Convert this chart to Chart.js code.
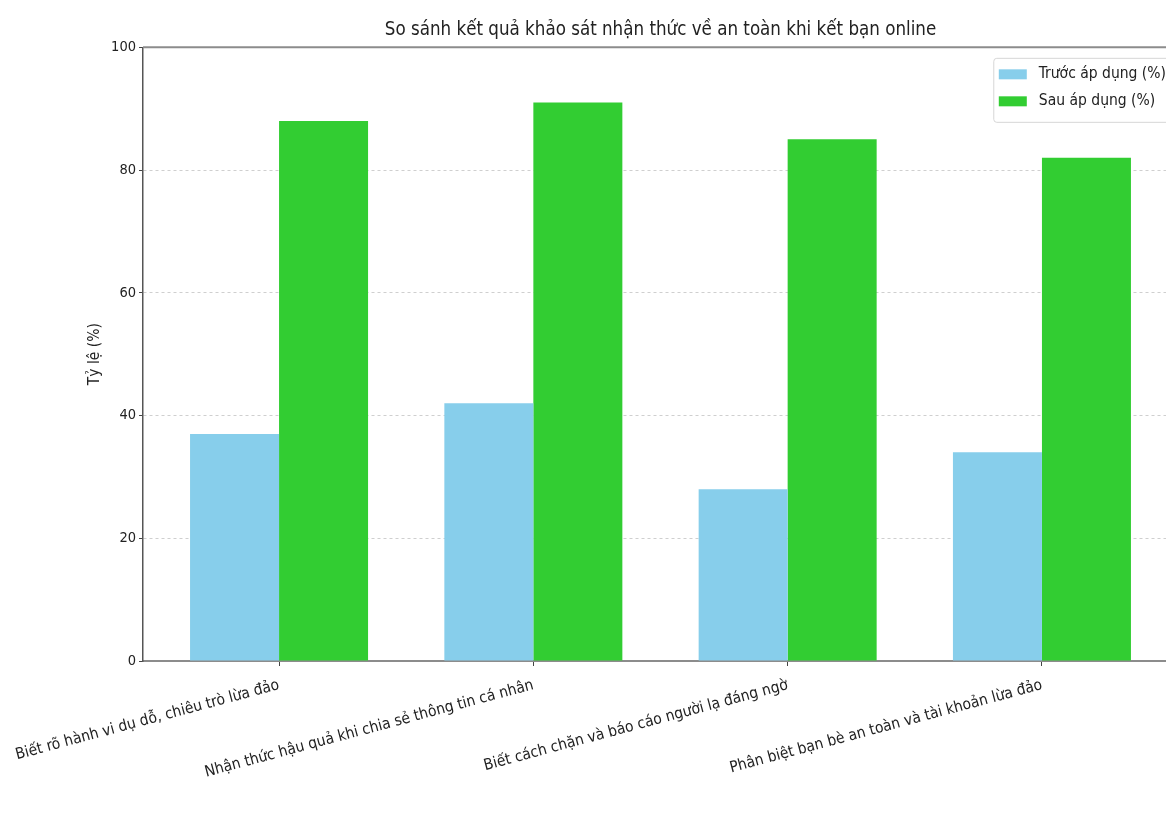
<!DOCTYPE html>
<html>
<head>
<meta charset="utf-8">
<script src="https://cdn.jsdelivr.net/npm/chart.js@4"></script>
<style>
html,body{margin:0;padding:0;background:#fff;overflow:hidden;width:1166px;height:817px;}
canvas{display:block;}
</style>
</head>
<body>
<canvas id="c" width="1321" height="817" style="width:1321px;height:817px"></canvas>
<script>
const chartTitle = 'So sánh kết quả khảo sát nhận thức về an toàn khi kết bạn online';
const yAxisTitle = 'Tỷ lệ (%)';
const categories = [
  'Biết rõ hành vi dụ dỗ, chiêu trò lừa đảo',
  'Nhận thức hậu quả khi chia sẻ thông tin cá nhân',
  'Biết cách chặn và báo cáo người lạ đáng ngờ',
  'Phân biệt bạn bè an toàn và tài khoản lừa đảo'
];
const seriesNames = ['Trước áp dụng (%)', 'Sau áp dụng (%)'];
const beforeValues = [37, 42, 28, 34];
const afterValues = [88, 91, 85, 82];
const yTicks = [0, 20, 40, 60, 80, 100];

const FONT = "'DejaVu Sans Condensed', 'DejaVu Sans', sans-serif";
const colors = ['#87CEEB', '#32CD32'];

const toPoints = arr => arr.map((v, i) => ({x: i, y: v}));

const frame = {
  id: 'frame',
  afterDraw(chart) {
    const {ctx, chartArea: a} = chart;
    ctx.save();
    // top spine
    ctx.strokeStyle = '#8c8c8c';
    ctx.lineWidth = 2;
    ctx.beginPath();
    ctx.moveTo(a.left, a.top);
    ctx.lineTo(a.right, a.top);
    ctx.stroke();
    // legend
    const ds = chart.data.datasets;
    ctx.font = "15.5px " + FONT;
    const textW = Math.max(...ds.map(d => ctx.measureText(d.label).width));
    const boxW = 28, boxH = 10, pad = 5, gap = 12, rowH = 27;
    const w = pad + boxW + gap + textW + pad;
    const h = 64;
    const x = a.right - 7 - w;
    const y = a.top + 11;
    ctx.fillStyle = 'rgba(255,255,255,0.85)';
    ctx.strokeStyle = '#d6d6d6';
    ctx.lineWidth = 1;
    ctx.beginPath();
    ctx.roundRect(x, y, w, h, 3);
    ctx.fill();
    ctx.stroke();
    ds.forEach((d, i) => {
      const cy = y + 16 + i * rowH;
      ctx.fillStyle = d.backgroundColor;
      ctx.fillRect(x + pad, cy - boxH / 2, boxW, boxH);
      ctx.fillStyle = '#222';
      ctx.textBaseline = 'middle';
      ctx.textAlign = 'left';
      ctx.fillText(d.label, x + pad + boxW + gap, cy);
    });
    ctx.restore();
  }
};

new Chart(document.getElementById('c'), {
  type: 'bar',
  data: {
    datasets: [
      {label: seriesNames[0], data: toPoints(beforeValues), backgroundColor: colors[0], borderWidth: 0},
      {label: seriesNames[1], data: toPoints(afterValues), backgroundColor: colors[1], borderWidth: 0}
    ]
  },
  options: {
    responsive: false,
    animation: false,
    devicePixelRatio: 1,
    categoryPercentage: 0.7,
    barPercentage: 1.0,
    layout: {padding: {left: 0, right: 0, top: 0, bottom: 0}},
    plugins: {
      legend: {display: false},
      tooltip: {enabled: false},
      title: {
        display: true,
        text: chartTitle,
        color: '#222',
        font: {family: FONT, size: 18.6, weight: 'normal'},
        padding: {top: 19, bottom: 6}
      }
    },
    scales: {
      x: {
        type: 'linear',
        min: -0.535,
        max: 3.535,
        offset: false,
        z: 1,
        afterBuildTicks(scale) { scale.ticks = categories.map((c, i) => ({value: i})); },
        afterFit(scale) { scale.height = 156; scale.paddingLeft = 0; scale.paddingRight = 0; },
        ticks: {
          autoSkip: false,
          minRotation: 15,
          maxRotation: 15,
          padding: 10,
          color: '#222',
          font: {family: FONT, size: 15.5},
          callback: (v) => categories[v]
        },
        grid: {display: true, offset: false, drawOnChartArea: false, drawTicks: true, tickLength: 5, tickColor: '#444', tickWidth: 1, tickBorderDash: []},
        border: {display: true, color: '#8c8c8c', width: 2}
      },
      y: {
        type: 'linear',
        position: 'left',
        min: 0,
        max: 100,
        afterBuildTicks(scale) { scale.ticks = yTicks.map(v => ({value: v})); },
        afterFit(scale) { scale.width = 143; },
        ticks: {color: '#222', font: {family: FONT, size: 14.5}, padding: 3},
        title: {display: true, text: yAxisTitle, color: '#222', font: {family: FONT, size: 15.5}, padding: {top: 86, bottom: 0}},
        grid: {
          drawTicks: true,
          tickLength: 4,
          tickColor: '#444',
          tickWidth: 1,
          tickBorderDash: [],
          lineWidth: 1,
          color: (ctx) => (ctx.tick && (ctx.tick.value === 0 || ctx.tick.value === 100)) ? 'rgba(0,0,0,0)' : '#cfcfcf'
        },
        border: {display: true, color: '#555', width: 1.5, dash: [3, 3]}
      },
      yR: {
        type: 'linear',
        position: 'right',
        display: true,
        min: 0,
        max: 100,
        afterFit(scale) { scale.width = 143; },
        ticks: {display: false},
        grid: {display: false},
        border: {display: false}
      }
    }
  },
  plugins: [frame]
});
</script>
</body>
</html>
